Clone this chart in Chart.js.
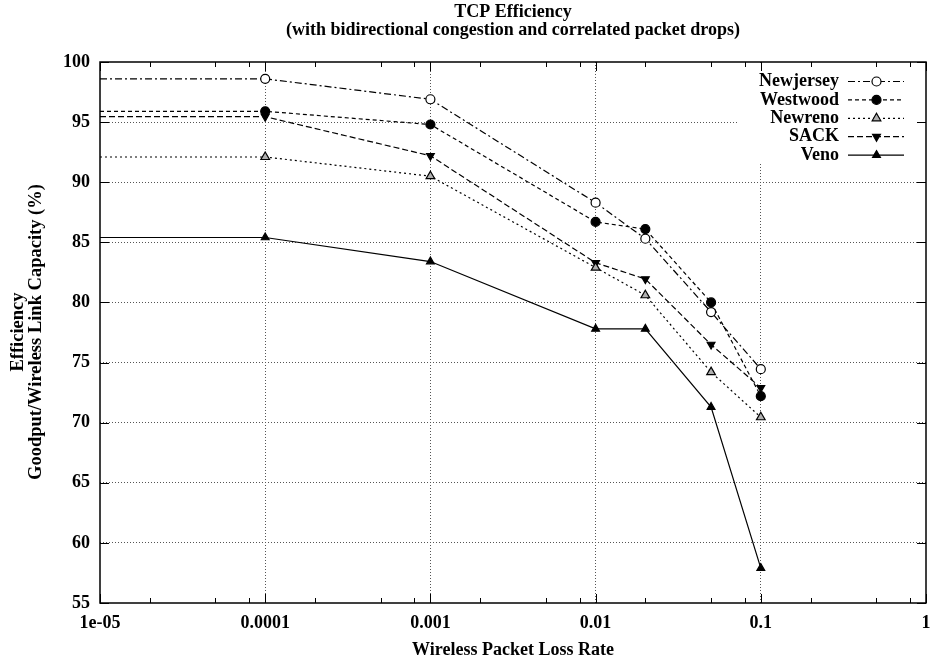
<!DOCTYPE html>
<html>
<head>
<meta charset="utf-8">
<script src="https://cdn.jsdelivr.net/npm/chart.js@4.4.1/dist/chart.umd.min.js"></script>
<style>
html,body{margin:0;padding:0;background:#fff;}
#wrap{width:935px;height:661px;position:relative;}
</style>
</head>
<body>
<div id="wrap"><canvas id="c" width="935" height="661"></canvas></div>
<script>
const lossRates = [1e-5, 1e-4, 1e-3, 1e-2, 2e-2, 5e-2, 1e-1];
const newjersey = [98.6, 98.6, 96.9, 88.3, 85.3, 79.2, 74.45];
const westwood  = [95.9, 95.9, 94.8, 86.7, 86.1, 80.0, 72.2];
const newreno   = [92.1, 92.1, 90.5, 82.9, 80.6, 74.2, 70.45];
const sack      = [95.45, 95.45, 92.2, 83.3, 81.95, 76.5, 72.9];
const veno      = [85.4, 85.4, 83.4, 77.8, 77.8, 71.3, 57.9];
const xTickValues = [1e-5, 1e-4, 1e-3, 1e-2, 1e-1, 1];
const xTickLabels = ['1e-05', '0.0001', '0.001', '0.01', '0.1', '1'];
const yTickValues = [55, 60, 65, 70, 75, 80, 85, 90, 95, 100];
const seriesNames = ['Newjersey', 'Westwood', 'Newreno', 'SACK', 'Veno'];

const FONT = '"Liberation Serif", "Times New Roman", serif';

function pts(arr){ return arr.map((v,i)=>({x:lossRates[i], y:v})); }
function radii(r){ return lossRates.map(x => x <= 1e-5 ? 0 : r); }

const styles = [
  {data:newjersey, dash:[7,3,2,3], pointStyle:'circle', fill:'#fff', rot:0, r:4.5},
  {data:westwood,  dash:[4,3],     pointStyle:'circle', fill:'#000', rot:0, r:4.5},
  {data:newreno,   dash:[2,3],     pointStyle:'triangle', fill:'#b0b0b0', rot:0, r:5},
  {data:sack,      dash:[6,3],     pointStyle:'triangle', fill:'#000', rot:180, r:4.5},
  {data:veno,      dash:[],        pointStyle:'triangle', fill:'#000', rot:0, r:4.5},
];

const datasets = styles.map((s,i)=>({
  label: seriesNames[i],
  data: pts(s.data),
  borderColor:'#000',
  borderWidth:1.2,
  borderDash:s.dash,
  backgroundColor:s.fill,
  pointStyle:s.pointStyle,
  pointRotation:s.rot,
  pointRadius:radii(s.r),
  pointBorderColor:'#000',
  pointBackgroundColor:s.fill,
  pointBorderWidth:1.2,
  pointHoverRadius:0,
  tension:0,
  fill:false,
  clip:false
}));

function drawMarker(ctx, style, x, y, r, fill, rot){
  ctx.save();
  ctx.setLineDash([]);
  ctx.lineWidth = 1.2;
  ctx.strokeStyle = '#000';
  ctx.fillStyle = fill;
  ctx.beginPath();
  if (style === 'circle'){
    ctx.arc(x, y, r, 0, Math.PI*2);
  } else {
    const a0 = (rot === 180) ? Math.PI/2 : -Math.PI/2;
    for (let k=0;k<3;k++){
      const a = a0 + k*2*Math.PI/3;
      const px = x + r*Math.cos(a), py = y + r*Math.sin(a);
      if (k===0) ctx.moveTo(px,py); else ctx.lineTo(px,py);
    }
    ctx.closePath();
  }
  ctx.fill();
  ctx.stroke();
  ctx.restore();
}

const decor = {
  id:'decor',
  beforeDatasetsDraw(chart){
    const ctx = chart.ctx;
    ctx.save();
    ctx.fillStyle = '#fff';
    ctx.fillRect(738, chart.chartArea.top+1, chart.chartArea.right-738-1, 163-chart.chartArea.top-1);
    ctx.restore();
  },
  afterDatasetsDraw(chart){
    const ctx = chart.ctx;
    const {left,right,top,bottom} = chart.chartArea;
    const xs = chart.scales.x, ys = chart.scales.y;
    ctx.save();
    ctx.strokeStyle = '#000';
    ctx.lineWidth = 1.5;
    ctx.setLineDash([]);
    ctx.strokeRect(left, top, right-left, bottom-top);
    ctx.lineWidth = 1;
    ctx.beginPath();
    for (let d=-5; d<=0; d++){
      const base = Math.pow(10,d);
      const px = Math.round(xs.getPixelForValue(base))+0.5;
      ctx.moveTo(px, bottom); ctx.lineTo(px, bottom-9);
      ctx.moveTo(px, top); ctx.lineTo(px, top+9);
      if (d<0){
        [2,5,8].forEach(m=>{
          const mx = Math.round(xs.getPixelForValue(base*m))+0.5;
          ctx.moveTo(mx, bottom); ctx.lineTo(mx, bottom-5);
          ctx.moveTo(mx, top); ctx.lineTo(mx, top+5);
        });
      }
    }
    yTickValues.forEach(v=>{
      const py = Math.round(ys.getPixelForValue(v))+0.5;
      ctx.moveTo(left, py); ctx.lineTo(left+9, py);
      ctx.moveTo(right, py); ctx.lineTo(right-9, py);
    });
    ctx.stroke();
    ctx.restore();

    ctx.save();
    ctx.font = 'bold 18px ' + FONT;
    ctx.fillStyle = '#000';
    ctx.textAlign = 'right';
    ctx.textBaseline = 'middle';
    styles.forEach((s,i)=>{
      const y = 81.5 + i*18.4;
      ctx.fillText(seriesNames[i], 839, y);
      ctx.beginPath();
      ctx.strokeStyle = '#000';
      ctx.lineWidth = 1.2;
      ctx.setLineDash(s.dash);
      ctx.moveTo(848, y); ctx.lineTo(904, y);
      ctx.stroke();
      ctx.setLineDash([]);
      drawMarker(ctx, s.pointStyle, 876.5, y, s.r, s.fill, s.rot);
    });
    ctx.restore();
  },
  afterDraw(chart){
    const ctx = chart.ctx;
    ctx.save();
    ctx.fillStyle = '#000';
    ctx.textAlign = 'center';
    ctx.textBaseline = 'middle';
    ctx.font = 'bold 18px ' + FONT;
    ctx.fillText('TCP Efficiency', 513, 12);
    ctx.fillText('(with bidirectional congestion and correlated packet drops)', 513, 30);
    ctx.fillText('Wireless Packet Loss Rate', 513, 650);
    ctx.translate(0, 332);
    ctx.rotate(-Math.PI/2);
    ctx.font = 'bold 18.5px ' + FONT;
    ctx.fillText('Efficiency', 0, 18);
    ctx.fillText('Goodput/Wireless Link Capacity (%)', 0, 36);
    ctx.restore();
  }
};

new Chart(document.getElementById('c'), {
  type:'line',
  data:{datasets},
  plugins:[decor],
  options:{
    responsive:false,
    animation:false,
    events:[],
    layout:{padding:{top:62, right:9, left:0, bottom:0}},
    plugins:{legend:{display:false}, tooltip:{enabled:false}, title:{display:false}},
    scales:{
      x:{
        type:'logarithmic',
        min:1e-5, max:1,
        afterBuildTicks(s){ s.ticks = xTickValues.map(v=>({value:v})); },
        afterFit(s){ s.height = 58; s.paddingRight = 0; s.paddingLeft = 0; },
        ticks:{
          autoSkip:false, maxRotation:0, padding:10, color:'#000',
          font:{family:FONT, size:18, weight:'bold'},
          callback(v){ const i = xTickValues.indexOf(v); return i>=0 ? xTickLabels[i] : ''; }
        },
        grid:{
          drawTicks:false, lineWidth:1,
          color(c){ const v=c.tick&&c.tick.value; return (v===1e-5||v===1)?'rgba(0,0,0,0)':'#555'; }
        },
        border:{display:false, dash:[1,2]}
      },
      y:{
        type:'linear',
        min:55, max:100,
        afterBuildTicks(s){ s.ticks = yTickValues.map(v=>({value:v})); },
        afterFit(s){ s.width = 100; s.paddingTop = 0; s.paddingBottom = 0; },
        ticks:{
          padding:10, color:'#000',
          font:{family:FONT, size:18, weight:'bold'}
        },
        grid:{
          drawTicks:false, lineWidth:1,
          color(c){ const v=c.tick&&c.tick.value; return (v===55||v===100)?'rgba(0,0,0,0)':'#555'; }
        },
        border:{display:false, dash:[1,2]}
      }
    }
  }
});
</script>
</body>
</html>
